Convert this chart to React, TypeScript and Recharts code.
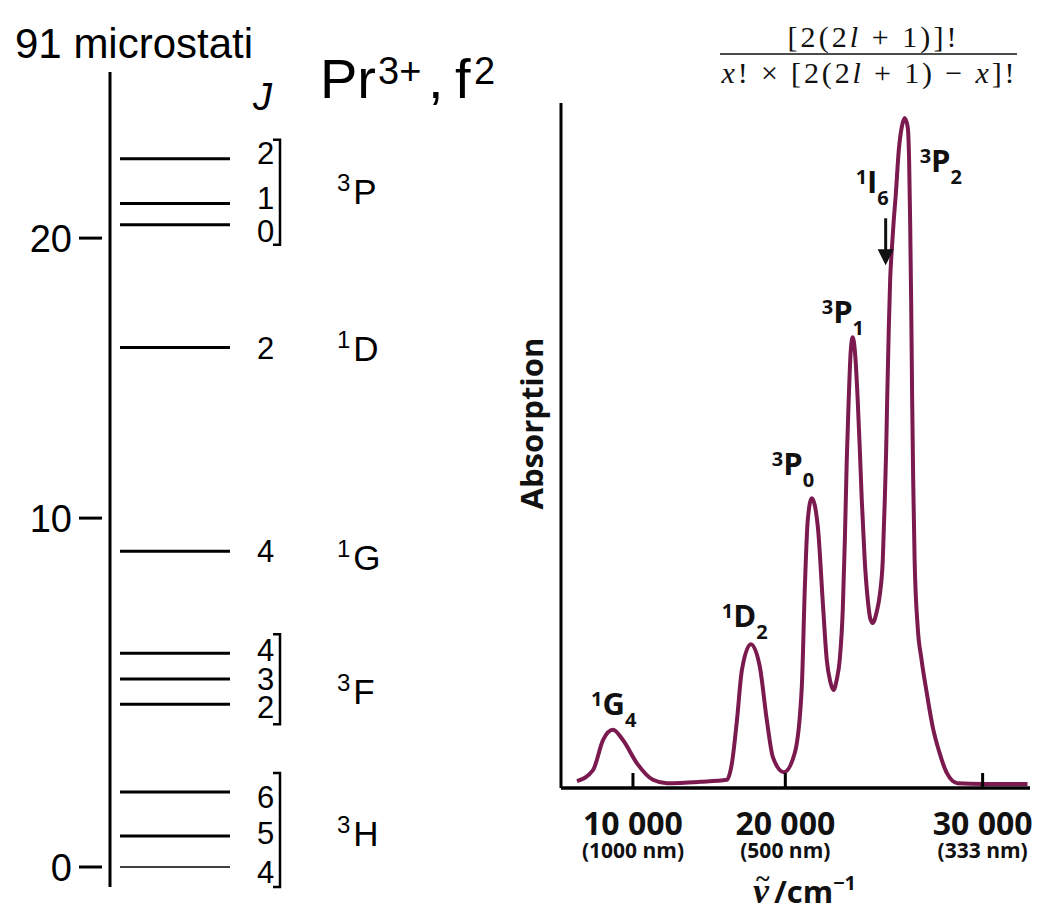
import React from 'react';
import { ComposedChart, LineChart, Line, XAxis, YAxis, ReferenceLine, ReferenceDot } from 'recharts';

// Pr3+ f2 levels, energy in 1000 cm-1
const LEVEL_MULT = ['3', '3', '3', '3', '3', '3', '1', '1', '3', '3', '3'];
const LEVEL_L = ['H', 'H', 'H', 'F', 'F', 'F', 'G', 'D', 'P', 'P', 'P'];
const LEVEL_J = ['4', '5', '6', '2', '3', '4', '4', '2', '0', '1', '2'];
const LEVEL_ENERGY = [0, 0.58, 1.64, 4.08, 4.83, 5.62, 8.89, 15.97, 20.5, 21.3, 23.0];
const ENERGY_TICKS = [0, 10, 20];

// absorption spectrum
const WAVENUMBER = [
  4760, 6470, 7430, 8330, 9180, 10320, 11540, 12560, 14820, 16540, 16850, 17160, 17460, 18000,
  18530, 18940, 19290, 19920, 20530, 20920, 21090, 21250, 21470, 21800, 22070, 22280, 22470,
  22650, 22810, 22970, 23130, 23240, 23340, 23440, 23550, 23650, 23780, 23910, 24020, 24120,
  24270, 24430, 24550, 24680, 24880, 25040, 25190, 25290, 25360, 25410, 25490, 25560, 25640,
  25740, 25840, 25990, 26140, 26280, 26430, 26500, 26550, 26600, 26650, 26700, 26770, 26920,
  27110, 27360, 27650, 27980, 28320, 28830, 30000, 32040,
];
const ABSORPTION = [
  1.0, 2.6, 7.0, 8.5, 7.0, 3.6, 1.2, 0.7, 0.9, 1.2, 3.6, 9.9, 17.2, 21.0,
  17.7, 9.9, 4.5, 2.3, 5.1, 14.7, 29.3, 39.1, 42.3, 38.1, 27.0, 18.7, 15.5,
  14.3, 15.8, 18.7, 26.0, 36.2, 47.9, 56.6, 63.9, 65.8, 63.2, 56.6, 49.3, 42.0,
  33.3, 27.4, 24.8, 24.1, 25.7, 28.2, 33.3, 42.0, 49.3, 56.6, 66.9, 74.2, 78.5,
  82.9, 86.6, 93.1, 96.5, 97.8, 96.5, 91.7, 82.9, 71.2, 56.6, 45.0, 33.3, 23.5,
  18.7, 13.9, 8.9, 5.1, 2.2, 0.7, 0.6, 0.6,
];
const WN_TICKS = [10000, 20000, 30000];
const WN_TICK_LABELS = ['10 000', '20 000', '30 000'];
const WL_TICK_LABELS = ['(1000 nm)', '(500 nm)', '(333 nm)'];

// peak assignments
const PEAK_WN = [8330, 18000, 21470, 23650, 25410, 26280];
const PEAK_SUP = ['1', '1', '3', '3', '1', '3'];
const PEAK_L = ['G', 'D', 'P', 'P', 'I', 'P'];
const PEAK_SUB = ['4', '2', '0', '1', '6', '2'];

// layout
const PEAK_LABEL_OFFSET = [[-22, -15], [-29, -17], [-40, -23], [-31, -14], [-31.5, -207], [15, 54]];
const J_LABEL_DY = [5, -3, 5, 3, 0, -3, 0, 0, 6, -6, -6];
const TERM_DY = [2, 10, 4, -2, -7];
const LEVEL_X0 = 2.5;
const LEVEL_X1 = 30;
const BRACKET_X = 42.5;
const TERM_X = 56.75;

const SANS = "'Liberation Sans', Arial, sans-serif";
const BOLD = "'Open Sans', 'Noto Sans', sans-serif";
const SERIF = "'Liberation Serif', 'DejaVu Serif', serif";
const CURVE = '#7a1a4f';

// d3-like power scale (the drawing's axes are not linear)
function powScale(exponent: number): any {
  let dom = [0, 1];
  let rng = [0, 1];
  const f = (v: number) => Math.sign(v) * Math.pow(Math.abs(v), exponent);
  const fi = (v: number) => Math.sign(v) * Math.pow(Math.abs(v), 1 / exponent);
  const scale: any = (v: any) => {
    const a = f(dom[0]);
    const b = f(dom[dom.length - 1]);
    return rng[0] + ((f(Number(v)) - a) / (b - a)) * (rng[rng.length - 1] - rng[0]);
  };
  scale.domain = (d?: any[]) => {
    if (!d) return dom.slice();
    dom = d.map(Number);
    return scale;
  };
  scale.range = (r?: any[]) => {
    if (!r) return rng.slice();
    rng = r.map(Number);
    return scale;
  };
  scale.invert = (p: number) => {
    const a = f(dom[0]);
    const b = f(dom[dom.length - 1]);
    const t = (p - rng[0]) / (rng[rng.length - 1] - rng[0]);
    return fi(a + t * (b - a));
  };
  scale.ticks = (count = 10) => {
    const lo = dom[0];
    const hi = dom[dom.length - 1];
    const step = Math.pow(10, Math.floor(Math.log10((hi - lo) / count)));
    const out: number[] = [];
    for (let v = Math.ceil(lo / step) * step; v <= hi; v += step) out.push(v);
    return out;
  };
  scale.tickFormat = () => (v: any) => String(v);
  scale.nice = () => scale;
  scale.clamp = () => scale;
  scale.copy = () => powScale(exponent).domain(dom).range(rng);
  return scale;
}

const energyScale = powScale(0.85);
const wnScale = powScale(1.5);

const spectrum = WAVENUMBER.map((wn, i) => ({ wn, abs: ABSORPTION[i] }));

function EnergyTick(props: any) {
  const { x, y, payload } = props;
  return (
    <g>
      <line x1={x - 31} x2={x - 8} y1={y} y2={y} stroke="#000" strokeWidth={3} />
      <text x={x - 38} y={y + 14} textAnchor="end" fontSize={38} fontFamily={SANS} fill="#000">
        {payload.value}
      </text>
    </g>
  );
}

function JLabel(props: any) {
  const { viewBox, text, shift } = props;
  const x = viewBox.x + viewBox.width + 27;
  const y = viewBox.y + viewBox.height / 2 + shift + 11;
  return (
    <text x={x} y={y} fontSize={31} fontFamily={SANS} fill="#000">
      {text}
    </text>
  );
}

function Bracket(props: any) {
  const { x1, y1, y2 } = props;
  const top = Math.min(y1, y2) - 19;
  const bottom = Math.max(y1, y2) + 20;
  return (
    <path
      d={`M${x1 - 7},${top}H${x1}V${bottom}H${x1 - 7}`}
      fill="none"
      stroke="#000"
      strokeWidth={2.5}
    />
  );
}

function TermLabel(props: any) {
  const { viewBox, mult, term, shift } = props;
  const x = viewBox.x;
  const y = viewBox.y + 15 + shift;
  return (
    <text x={x} y={y} fontFamily={SANS} fill="#000" fontSize={35}>
      <tspan fontSize={24} dy={-13}>{mult}</tspan>
      <tspan dy={13} dx={3}>{term}</tspan>
    </text>
  );
}

function PeakLabel(props: any) {
  const { viewBox, sup, letter, sub, offX, offY, arrow } = props;
  const px = viewBox.x + viewBox.width / 2;
  const py = viewBox.y + viewBox.height / 2;
  const x = px + offX;
  const y = py + offY;
  return (
    <g>
      <text x={x} y={y} fontFamily={BOLD} fontWeight={700} fill="#111" fontSize={31}>
        <tspan fontSize={20} dy={-9}>{sup}</tspan>
        <tspan dy={9}>{letter}</tspan>
        <tspan fontSize={20} dy={12}>{sub}</tspan>
      </text>
      {arrow ? (
        <g>
          <line x1={px - 1.5} x2={px - 1.5} y1={py + arrow[0]} y2={py + arrow[1] - 10} stroke="#111" strokeWidth={3} />
          <path
            d={`M${px - 9.5},${py + arrow[1] - 16}L${px - 1.5},${py + arrow[1]}L${px + 6.5},${py + arrow[1] - 16}Z`}
            fill="#111"
          />
        </g>
      ) : null}
    </g>
  );
}

function WnTick(props: any) {
  const { x, y, payload } = props;
  const i = WN_TICKS.indexOf(payload.value);
  return (
    <g>
      <line x1={x} x2={x} y1={y - 1} y2={y - 15} stroke="#000" strokeWidth={3} />
      <text textAnchor="middle" fontFamily={BOLD} fontWeight={700} fill="#111">
        <tspan x={x} y={y + 47} fontSize={32}>{WN_TICK_LABELS[i]}</tspan>
        <tspan x={x} y={y + 70} fontSize={21}>{WL_TICK_LABELS[i]}</tspan>
      </text>
    </g>
  );
}

function WnTitle(props: any) {
  const { viewBox } = props;
  const x0 = viewBox.x + 192;
  const base = viewBox.y + 115;
  return (
    <text fill="#111" fontFamily={BOLD} fontWeight={700} fontSize={31}>
      <tspan x={x0} y={base} fontFamily={SERIF} fontStyle="italic" fontSize={36}>
        {'\u03bd'}
      </tspan>
      <tspan x={x0 + 3} y={base - 16} fontFamily={SERIF} fontSize={26}>
        ~
      </tspan>
      <tspan x={x0 + 21} y={base}>/cm</tspan>
      <tspan fontSize={20} dy={-13}>{'\u22121'}</tspan>
    </text>
  );
}

function AbsTitle(props: any) {
  const { viewBox } = props;
  const x = viewBox.x + viewBox.width - 18;
  const y = viewBox.y + viewBox.height / 2 - 22;
  return (
    <text
      x={x}
      y={y}
      transform={`rotate(-90 ${x} ${y})`}
      textAnchor="middle"
      fontFamily={BOLD}
      fontWeight={700}
      fontSize={31}
      fill="#111"
    >
      Absorption
    </text>
  );
}

function LevelDiagram() {
  const groups: { mult: string; term: string; idx: number[] }[] = [];
  LEVEL_ENERGY.forEach((_, i) => {
    const g = groups.find((gr) => gr.mult === LEVEL_MULT[i] && gr.term === LEVEL_L[i]);
    if (g) g.idx.push(i);
    else groups.push({ mult: LEVEL_MULT[i], term: LEVEL_L[i], idx: [i] });
  });
  const ground = Math.min(...LEVEL_ENERGY);

  return (
    <ComposedChart width={520} height={914} margin={{ top: 72, right: 10, bottom: 27, left: 0 }}>
      <XAxis type="number" dataKey="x" domain={[0, 100]} allowDataOverflow hide />
      <YAxis
        type="number"
        scale={energyScale}
        domain={[-0.346, 26.35]}
        allowDataOverflow
        ticks={ENERGY_TICKS}
        interval={0}
        width={110}
        tickSize={0}
        tickMargin={0}
        tickLine={false}
        axisLine={{ stroke: '#000', strokeWidth: 3 }}
        tick={<EnergyTick />}
      />
      {LEVEL_ENERGY.map((e, i) => (
        <ReferenceLine
          key={`lvl-${i}`}
          segment={[{ x: LEVEL_X0, y: e }, { x: LEVEL_X1, y: e }]}
          stroke="#000"
          strokeWidth={e === ground ? 1.5 : 3}
          label={<JLabel text={LEVEL_J[i]} shift={J_LABEL_DY[i]} />}
        />
      ))}
      {groups
        .filter((g) => g.idx.length > 1)
        .map((g) => {
          const es = g.idx.map((i) => LEVEL_ENERGY[i]);
          return (
            <ReferenceLine
              key={`br-${g.mult}${g.term}`}
              segment={[{ x: BRACKET_X, y: Math.min(...es) }, { x: BRACKET_X, y: Math.max(...es) }]}
              stroke="#000"
              shape={<Bracket />}
            />
          );
        })}
      {groups.map((g, gi) => {
        const mean = g.idx.reduce((s, i) => s + LEVEL_ENERGY[i], 0) / g.idx.length;
        return (
          <ReferenceDot
            key={`term-${g.mult}${g.term}`}
            x={TERM_X}
            y={mean}
            r={0}
            fill="none"
            stroke="none"
            label={<TermLabel mult={g.mult} term={g.term} shift={TERM_DY[gi]} />}
          />
        );
      })}
    </ComposedChart>
  );
}

function Spectrum() {
  return (
    <LineChart width={561} height={914} data={spectrum} margin={{ top: 103, right: 11, bottom: 6, left: 21 }}>
      <XAxis
        type="number"
        dataKey="wn"
        scale={wnScale}
        domain={[2650, 32150]}
        allowDataOverflow
        ticks={WN_TICKS}
        interval={0}
        height={120}
        tickSize={0}
        tickMargin={0}
        tickLine={false}
        axisLine={{ stroke: '#000', strokeWidth: 3.5 }}
        tick={<WnTick />}
        label={<WnTitle />}
      />
      <YAxis
        type="number"
        domain={[0, 100]}
        allowDataOverflow
        width={60}
        tick={false}
        tickLine={false}
        axisLine={{ stroke: '#000', strokeWidth: 3 }}
        label={<AbsTitle />}
      />
      <Line type="monotone" dataKey="abs" stroke={CURVE} strokeWidth={4} dot={false} isAnimationActive={false} />
      {PEAK_WN.map((w, i) => (
        <ReferenceDot
          key={`peak-${i}`}
          x={w}
          y={ABSORPTION[WAVENUMBER.indexOf(w)]}
          r={0}
          fill="none"
          stroke="none"
          label={
            <PeakLabel
              sup={PEAK_SUP[i]}
              letter={PEAK_L[i]}
              sub={PEAK_SUB[i]}
              offX={PEAK_LABEL_OFFSET[i][0]}
              offY={PEAK_LABEL_OFFSET[i][1]}
              arrow={PEAK_L[i] === 'I' ? [-182, -135] : null}
            />
          }
        />
      ))}
    </LineChart>
  );
}

export default function App() {
  return (
    <div style={{ position: 'absolute', left: 0, top: 0, width: 1041, height: 914, background: '#fff', fontFamily: SANS }}>
      <div style={{ position: 'absolute', left: 0, top: 0 }}>
        <LevelDiagram />
      </div>
      <div style={{ position: 'absolute', left: 480, top: 0 }}>
        <Spectrum />
      </div>
      <svg width={1041} height={914} style={{ position: 'absolute', left: 0, top: 0, pointerEvents: 'none' }}>
        <text x={15} y={58} fontSize={42} fontFamily={SANS} fill="#000">91 microstati</text>
        <g fontFamily={SANS} fill="#000">
          <text x={320} y={98} fontSize={56}>Pr</text>
          <text x={378} y={84} fontSize={38}>3+</text>
          <text x={428} y={98} fontSize={56}>,</text>
          <text x={455} y={98} fontSize={56}>f</text>
          <text x={474} y={84} fontSize={38}>2</text>
        </g>
        <text x={253} y={110} fontSize={38} fontStyle="italic" fontFamily={SANS} fill="#000">J</text>
        <g fontFamily={SERIF} fontSize={30} fill="#111">
          <text x={872} y={47} textAnchor="middle" textLength={169} lengthAdjust="spacing">
            [2(2<tspan fontStyle="italic">l</tspan> + 1)]!
          </text>
          <line x1={720} x2={1017} y1={54} y2={54} stroke="#111" strokeWidth={1.5} />
          <text x={868} y={83} textAnchor="middle" textLength={293} lengthAdjust="spacing">
            <tspan fontStyle="italic">x</tspan>! {'\u00d7'} [2(2<tspan fontStyle="italic">l</tspan> + 1) {'\u2212'}{' '}
            <tspan fontStyle="italic">x</tspan>]!
          </text>
        </g>
      </svg>
    </div>
  );
}
